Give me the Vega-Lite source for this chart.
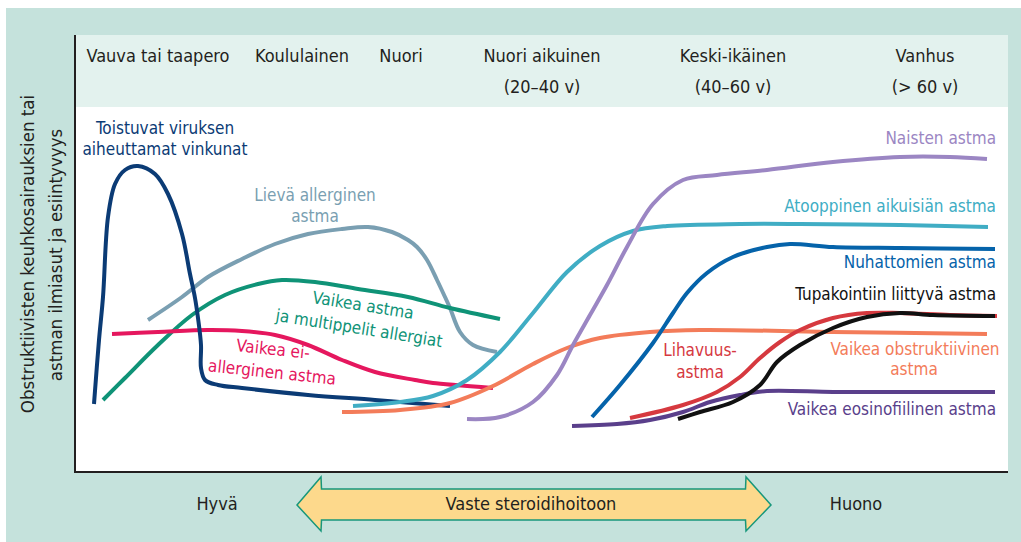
{
  "$schema": "https://vega.github.io/schema/vega-lite/v6.json",
  "width": 1021,
  "height": 542,
  "padding": 0,
  "autosize": {"type": "fit", "contains": "padding"},
  "background": "#ffffff",
  "config": {"view": {"stroke": null}},
  "datasets": {
    "pohja": [
      {"osa": "tausta", "x": -69, "x2": 946, "y": 464, "y2": -70},
      {"osa": "otsake", "x": 0, "x2": 933, "y": 437, "y2": 365},
      {"osa": "kuva", "x": 0, "x2": 933, "y": 365, "y2": 0}
    ],
    "akselit": [
      {"x": 0, "y": 437, "x2": 0, "y2": -1},
      {"x": -1, "y": 0, "x2": 933, "y2": 0}
    ],
    "nuoli": [
      {"x": 222, "y": -33, "y2": -33},
      {"x": 246, "y": -5, "y2": -59},
      {"x": 246.5, "y": -17, "y2": -48},
      {"x": 670.5, "y": -17, "y2": -48},
      {"x": 671, "y": -5, "y2": -59},
      {"x": 696, "y": -33, "y2": -33}
    ],
    "kayrat": [
      {"sarja": "Lievä allerginen astma", "j": 1, "x": 73, "y": 152},
      {"sarja": "Lievä allerginen astma", "j": 2, "x": 107, "y": 175},
      {"sarja": "Lievä allerginen astma", "j": 3, "x": 133, "y": 195},
      {"sarja": "Lievä allerginen astma", "j": 4, "x": 167, "y": 213},
      {"sarja": "Lievä allerginen astma", "j": 5, "x": 200, "y": 228},
      {"sarja": "Lievä allerginen astma", "j": 6, "x": 233, "y": 238},
      {"sarja": "Lievä allerginen astma", "j": 7, "x": 267, "y": 243},
      {"sarja": "Lievä allerginen astma", "j": 8, "x": 293, "y": 245},
      {"sarja": "Lievä allerginen astma", "j": 9, "x": 317, "y": 240},
      {"sarja": "Lievä allerginen astma", "j": 10, "x": 333, "y": 232},
      {"sarja": "Lievä allerginen astma", "j": 11, "x": 342, "y": 225},
      {"sarja": "Lievä allerginen astma", "j": 12, "x": 352, "y": 212},
      {"sarja": "Lievä allerginen astma", "j": 13, "x": 362, "y": 192},
      {"sarja": "Lievä allerginen astma", "j": 14, "x": 370, "y": 175},
      {"sarja": "Lievä allerginen astma", "j": 15, "x": 375, "y": 164},
      {"sarja": "Lievä allerginen astma", "j": 16, "x": 385, "y": 140},
      {"sarja": "Lievä allerginen astma", "j": 17, "x": 398, "y": 127},
      {"sarja": "Lievä allerginen astma", "j": 18, "x": 422, "y": 120},

      {"sarja": "Vaikea astma ja multippelit allergiat", "j": 1, "x": 28, "y": 72},
      {"sarja": "Vaikea astma ja multippelit allergiat", "j": 2, "x": 50, "y": 94},
      {"sarja": "Vaikea astma ja multippelit allergiat", "j": 3, "x": 83, "y": 127},
      {"sarja": "Vaikea astma ja multippelit allergiat", "j": 4, "x": 117, "y": 157},
      {"sarja": "Vaikea astma ja multippelit allergiat", "j": 5, "x": 150, "y": 177},
      {"sarja": "Vaikea astma ja multippelit allergiat", "j": 6, "x": 183, "y": 188},
      {"sarja": "Vaikea astma ja multippelit allergiat", "j": 7, "x": 207, "y": 192},
      {"sarja": "Vaikea astma ja multippelit allergiat", "j": 8, "x": 240, "y": 190},
      {"sarja": "Vaikea astma ja multippelit allergiat", "j": 9, "x": 283, "y": 183},
      {"sarja": "Vaikea astma ja multippelit allergiat", "j": 10, "x": 333, "y": 175},
      {"sarja": "Vaikea astma ja multippelit allergiat", "j": 11, "x": 375, "y": 164},
      {"sarja": "Vaikea astma ja multippelit allergiat", "j": 12, "x": 425, "y": 153},

      {"sarja": "Vaikea ei-allerginen astma", "j": 1, "x": 37, "y": 138},
      {"sarja": "Vaikea ei-allerginen astma", "j": 2, "x": 83, "y": 140},
      {"sarja": "Vaikea ei-allerginen astma", "j": 3, "x": 133, "y": 142},
      {"sarja": "Vaikea ei-allerginen astma", "j": 4, "x": 167, "y": 141},
      {"sarja": "Vaikea ei-allerginen astma", "j": 5, "x": 200, "y": 137},
      {"sarja": "Vaikea ei-allerginen astma", "j": 6, "x": 233, "y": 127},
      {"sarja": "Vaikea ei-allerginen astma", "j": 7, "x": 267, "y": 112},
      {"sarja": "Vaikea ei-allerginen astma", "j": 8, "x": 300, "y": 100},
      {"sarja": "Vaikea ei-allerginen astma", "j": 9, "x": 340, "y": 92},
      {"sarja": "Vaikea ei-allerginen astma", "j": 10, "x": 358, "y": 89},
      {"sarja": "Vaikea ei-allerginen astma", "j": 11, "x": 418, "y": 84},

      {"sarja": "Toistuvat viruksen aiheuttamat vinkunat", "j": 1, "x": 19, "y": 68},
      {"sarja": "Toistuvat viruksen aiheuttamat vinkunat", "j": 2, "x": 24, "y": 132},
      {"sarja": "Toistuvat viruksen aiheuttamat vinkunat", "j": 3, "x": 28, "y": 175},
      {"sarja": "Toistuvat viruksen aiheuttamat vinkunat", "j": 4, "x": 33, "y": 255},
      {"sarja": "Toistuvat viruksen aiheuttamat vinkunat", "j": 5, "x": 40, "y": 288},
      {"sarja": "Toistuvat viruksen aiheuttamat vinkunat", "j": 6, "x": 50, "y": 302},
      {"sarja": "Toistuvat viruksen aiheuttamat vinkunat", "j": 7, "x": 63, "y": 306},
      {"sarja": "Toistuvat viruksen aiheuttamat vinkunat", "j": 8, "x": 80, "y": 298},
      {"sarja": "Toistuvat viruksen aiheuttamat vinkunat", "j": 9, "x": 93, "y": 278},
      {"sarja": "Toistuvat viruksen aiheuttamat vinkunat", "j": 10, "x": 107, "y": 238},
      {"sarja": "Toistuvat viruksen aiheuttamat vinkunat", "j": 11, "x": 115, "y": 198},
      {"sarja": "Toistuvat viruksen aiheuttamat vinkunat", "j": 12, "x": 120, "y": 174},
      {"sarja": "Toistuvat viruksen aiheuttamat vinkunat", "j": 13, "x": 123, "y": 154},
      {"sarja": "Toistuvat viruksen aiheuttamat vinkunat", "j": 14, "x": 126, "y": 127},
      {"sarja": "Toistuvat viruksen aiheuttamat vinkunat", "j": 15, "x": 126, "y": 104},
      {"sarja": "Toistuvat viruksen aiheuttamat vinkunat", "j": 16, "x": 130, "y": 92},
      {"sarja": "Toistuvat viruksen aiheuttamat vinkunat", "j": 17, "x": 143, "y": 87},
      {"sarja": "Toistuvat viruksen aiheuttamat vinkunat", "j": 18, "x": 167, "y": 84},
      {"sarja": "Toistuvat viruksen aiheuttamat vinkunat", "j": 19, "x": 233, "y": 77},
      {"sarja": "Toistuvat viruksen aiheuttamat vinkunat", "j": 20, "x": 300, "y": 72},
      {"sarja": "Toistuvat viruksen aiheuttamat vinkunat", "j": 21, "x": 375, "y": 66},

      {"sarja": "Atooppinen aikuisiän astma", "j": 1, "x": 278, "y": 66},
      {"sarja": "Atooppinen aikuisiän astma", "j": 2, "x": 325, "y": 70},
      {"sarja": "Atooppinen aikuisiän astma", "j": 3, "x": 358, "y": 76},
      {"sarja": "Atooppinen aikuisiän astma", "j": 4, "x": 392, "y": 92},
      {"sarja": "Atooppinen aikuisiän astma", "j": 5, "x": 425, "y": 120},
      {"sarja": "Atooppinen aikuisiän astma", "j": 6, "x": 458, "y": 159},
      {"sarja": "Atooppinen aikuisiän astma", "j": 7, "x": 492, "y": 200},
      {"sarja": "Atooppinen aikuisiän astma", "j": 8, "x": 525, "y": 226},
      {"sarja": "Atooppinen aikuisiän astma", "j": 9, "x": 558, "y": 241},
      {"sarja": "Atooppinen aikuisiän astma", "j": 10, "x": 592, "y": 246},
      {"sarja": "Atooppinen aikuisiän astma", "j": 11, "x": 665, "y": 248},
      {"sarja": "Atooppinen aikuisiän astma", "j": 12, "x": 725, "y": 248},
      {"sarja": "Atooppinen aikuisiän astma", "j": 13, "x": 825, "y": 247},
      {"sarja": "Atooppinen aikuisiän astma", "j": 14, "x": 913, "y": 245},

      {"sarja": "Vaikea obstruktiivinen astma", "j": 1, "x": 267, "y": 60},
      {"sarja": "Vaikea obstruktiivinen astma", "j": 2, "x": 325, "y": 62},
      {"sarja": "Vaikea obstruktiivinen astma", "j": 3, "x": 375, "y": 69},
      {"sarja": "Vaikea obstruktiivinen astma", "j": 4, "x": 418, "y": 86},
      {"sarja": "Vaikea obstruktiivinen astma", "j": 5, "x": 458, "y": 108},
      {"sarja": "Vaikea obstruktiivinen astma", "j": 6, "x": 492, "y": 124},
      {"sarja": "Vaikea obstruktiivinen astma", "j": 7, "x": 525, "y": 134},
      {"sarja": "Vaikea obstruktiivinen astma", "j": 8, "x": 575, "y": 140},
      {"sarja": "Vaikea obstruktiivinen astma", "j": 9, "x": 625, "y": 142},
      {"sarja": "Vaikea obstruktiivinen astma", "j": 10, "x": 758, "y": 140},
      {"sarja": "Vaikea obstruktiivinen astma", "j": 11, "x": 912, "y": 138},

      {"sarja": "Naisten astma", "j": 1, "x": 392, "y": 53},
      {"sarja": "Naisten astma", "j": 2, "x": 425, "y": 55},
      {"sarja": "Naisten astma", "j": 3, "x": 458, "y": 70},
      {"sarja": "Naisten astma", "j": 4, "x": 482, "y": 97},
      {"sarja": "Naisten astma", "j": 5, "x": 498, "y": 127},
      {"sarja": "Naisten astma", "j": 6, "x": 515, "y": 157},
      {"sarja": "Naisten astma", "j": 7, "x": 532, "y": 187},
      {"sarja": "Naisten astma", "j": 8, "x": 552, "y": 225},
      {"sarja": "Naisten astma", "j": 9, "x": 578, "y": 268},
      {"sarja": "Naisten astma", "j": 10, "x": 608, "y": 292},
      {"sarja": "Naisten astma", "j": 11, "x": 642, "y": 297},
      {"sarja": "Naisten astma", "j": 12, "x": 692, "y": 302},
      {"sarja": "Naisten astma", "j": 13, "x": 758, "y": 310},
      {"sarja": "Naisten astma", "j": 14, "x": 825, "y": 315},
      {"sarja": "Naisten astma", "j": 15, "x": 875, "y": 315},
      {"sarja": "Naisten astma", "j": 16, "x": 912, "y": 313},

      {"sarja": "Nuhattomien astma", "j": 1, "x": 517, "y": 55},
      {"sarja": "Nuhattomien astma", "j": 2, "x": 545, "y": 87},
      {"sarja": "Nuhattomien astma", "j": 3, "x": 578, "y": 129},
      {"sarja": "Nuhattomien astma", "j": 4, "x": 598, "y": 159},
      {"sarja": "Nuhattomien astma", "j": 5, "x": 612, "y": 179},
      {"sarja": "Nuhattomien astma", "j": 6, "x": 632, "y": 199},
      {"sarja": "Nuhattomien astma", "j": 7, "x": 658, "y": 215},
      {"sarja": "Nuhattomien astma", "j": 8, "x": 692, "y": 225},
      {"sarja": "Nuhattomien astma", "j": 9, "x": 715, "y": 228},
      {"sarja": "Nuhattomien astma", "j": 10, "x": 758, "y": 225},
      {"sarja": "Nuhattomien astma", "j": 11, "x": 825, "y": 224},
      {"sarja": "Nuhattomien astma", "j": 12, "x": 920, "y": 223},

      {"sarja": "Vaikea eosinofiilinen astma", "j": 1, "x": 497, "y": 46},
      {"sarja": "Vaikea eosinofiilinen astma", "j": 2, "x": 542, "y": 48},
      {"sarja": "Vaikea eosinofiilinen astma", "j": 3, "x": 575, "y": 52},
      {"sarja": "Vaikea eosinofiilinen astma", "j": 4, "x": 608, "y": 60},
      {"sarja": "Vaikea eosinofiilinen astma", "j": 5, "x": 635, "y": 70},
      {"sarja": "Vaikea eosinofiilinen astma", "j": 6, "x": 665, "y": 77},
      {"sarja": "Vaikea eosinofiilinen astma", "j": 7, "x": 692, "y": 81},
      {"sarja": "Vaikea eosinofiilinen astma", "j": 8, "x": 758, "y": 80},
      {"sarja": "Vaikea eosinofiilinen astma", "j": 9, "x": 825, "y": 80},
      {"sarja": "Vaikea eosinofiilinen astma", "j": 10, "x": 920, "y": 80},

      {"sarja": "Lihavuusastma", "j": 1, "x": 555, "y": 54},
      {"sarja": "Lihavuusastma", "j": 2, "x": 608, "y": 67},
      {"sarja": "Lihavuusastma", "j": 3, "x": 642, "y": 80},
      {"sarja": "Lihavuusastma", "j": 4, "x": 665, "y": 95},
      {"sarja": "Lihavuusastma", "j": 5, "x": 685, "y": 114},
      {"sarja": "Lihavuusastma", "j": 6, "x": 705, "y": 130},
      {"sarja": "Lihavuusastma", "j": 7, "x": 725, "y": 142},
      {"sarja": "Lihavuusastma", "j": 8, "x": 758, "y": 154},
      {"sarja": "Lihavuusastma", "j": 9, "x": 792, "y": 159},
      {"sarja": "Lihavuusastma", "j": 10, "x": 825, "y": 159},
      {"sarja": "Lihavuusastma", "j": 11, "x": 875, "y": 157},
      {"sarja": "Lihavuusastma", "j": 12, "x": 922, "y": 156},

      {"sarja": "Tupakointiin liittyvä astma", "j": 1, "x": 603, "y": 53},
      {"sarja": "Tupakointiin liittyvä astma", "j": 2, "x": 625, "y": 60},
      {"sarja": "Tupakointiin liittyvä astma", "j": 3, "x": 658, "y": 70},
      {"sarja": "Tupakointiin liittyvä astma", "j": 4, "x": 685, "y": 87},
      {"sarja": "Tupakointiin liittyvä astma", "j": 5, "x": 702, "y": 110},
      {"sarja": "Tupakointiin liittyvä astma", "j": 6, "x": 725, "y": 127},
      {"sarja": "Tupakointiin liittyvä astma", "j": 7, "x": 758, "y": 144},
      {"sarja": "Tupakointiin liittyvä astma", "j": 8, "x": 792, "y": 155},
      {"sarja": "Tupakointiin liittyvä astma", "j": 9, "x": 825, "y": 159},
      {"sarja": "Tupakointiin liittyvä astma", "j": 10, "x": 858, "y": 157},
      {"sarja": "Tupakointiin liittyvä astma", "j": 11, "x": 920, "y": 156}
    ],
    "nimet": [
      {"sarja": "Toistuvat viruksen aiheuttamat vinkunat", "teksti": "Toistuvat viruksen", "x": 90, "y": 343},
      {"sarja": "Toistuvat viruksen aiheuttamat vinkunat", "teksti": "aiheuttamat vinkunat", "x": 90, "y": 322},
      {"sarja": "Lievä allerginen astma", "teksti": "Lievä allerginen", "x": 240, "y": 276},
      {"sarja": "Lievä allerginen astma", "teksti": "astma", "x": 240, "y": 255},
      {"sarja": "Vaikea obstruktiivinen astma", "teksti": "Vaikea obstruktiivinen", "x": 840, "y": 122},
      {"sarja": "Vaikea obstruktiivinen astma", "teksti": "astma", "x": 839, "y": 102},
      {"sarja": "Lihavuusastma", "teksti": "Lihavuus-", "x": 625, "y": 121},
      {"sarja": "Lihavuusastma", "teksti": "astma", "x": 625, "y": 99},
      {"sarja": "Vaikea astma ja multippelit allergiat", "teksti": "Vaikea astma", "x": 288, "y": 166},
      {"sarja": "Vaikea astma ja multippelit allergiat", "teksti": "ja multippelit allergiat", "x": 284, "y": 143},
      {"sarja": "Vaikea ei-allerginen astma", "teksti": "Vaikea ei-", "x": 198, "y": 122},
      {"sarja": "Vaikea ei-allerginen astma", "teksti": "allerginen astma", "x": 197, "y": 99},
      {"sarja": "Naisten astma", "teksti": "Naisten astma", "x": 921, "y": 333},
      {"sarja": "Atooppinen aikuisiän astma", "teksti": "Atooppinen aikuisiän astma", "x": 921, "y": 265},
      {"sarja": "Nuhattomien astma", "teksti": "Nuhattomien astma", "x": 921, "y": 209},
      {"sarja": "Tupakointiin liittyvä astma", "teksti": "Tupakointiin liittyvä astma", "x": 921, "y": 177},
      {"sarja": "Vaikea eosinofiilinen astma", "teksti": "Vaikea eosinofiilinen astma", "x": 921, "y": 62}
    ],
    "ikaryhmat": [
      {"teksti": "Vauva tai taapero", "x": 83, "y": 415},
      {"teksti": "Koululainen", "x": 227, "y": 415},
      {"teksti": "Nuori", "x": 326, "y": 415},
      {"teksti": "Nuori aikuinen", "x": 467, "y": 415},
      {"teksti": "(20–40 v)", "x": 467, "y": 384},
      {"teksti": "Keski-ikäinen", "x": 658, "y": 415},
      {"teksti": "(40–60 v)", "x": 658, "y": 384},
      {"teksti": "Vanhus", "x": 850, "y": 415},
      {"teksti": "(> 60 v)", "x": 850, "y": 384}
    ],
    "vaste": [
      {"teksti": "Hyvä", "x": 142, "y": -33},
      {"teksti": "Vaste steroidihoitoon", "x": 456, "y": -33},
      {"teksti": "Huono", "x": 781, "y": -33}
    ],
    "akselinimi": [
      {"teksti": "Obstruktiivisten keuhkosairauksien tai", "x": -47, "y": 218},
      {"teksti": "astman ilmiasut ja esiintyvyys", "x": -19, "y": 217}
    ]
  },
  "encoding": {
    "x": {"field": "x", "type": "quantitative", "scale": {"domain": [-75, 946], "nice": false, "zero": false}, "axis": null},
    "y": {"field": "y", "type": "quantitative", "scale": {"domain": [-70, 472], "nice": false, "zero": false}, "axis": null}
  },
  "layer": [
    {
      "data": {"name": "pohja"},
      "mark": {"type": "rect", "stroke": null},
      "encoding": {
        "x2": {"field": "x2"},
        "y2": {"field": "y2"},
        "fill": {"field": "osa", "type": "nominal", "scale": {"domain": ["tausta", "otsake", "kuva"], "range": ["#c5e2dc", "#e3f2ee", "#ffffff"]}, "legend": null}
      }
    },
    {
      "data": {"name": "akselit"},
      "mark": {"type": "rule", "color": "#231f20", "strokeWidth": 2},
      "encoding": {"x2": {"field": "x2"}, "y2": {"field": "y2"}}
    },
    {
      "data": {"name": "nuoli"},
      "mark": {"type": "area", "fill": "#fdd98c", "stroke": "#17977b", "strokeWidth": 1.5, "opacity": 1, "fillOpacity": 1, "interpolate": "linear", "orient": "vertical"},
      "encoding": {"y2": {"field": "y2"}}
    },
    {
      "data": {"name": "kayrat"},
      "mark": {"type": "line", "strokeWidth": 4, "interpolate": "catmull-rom", "strokeCap": "butt"},
      "encoding": {
        "color": {"field": "sarja", "type": "nominal", "legend": null,
          "scale": {
            "domain": ["Toistuvat viruksen aiheuttamat vinkunat", "Lievä allerginen astma", "Vaikea astma ja multippelit allergiat", "Vaikea ei-allerginen astma", "Atooppinen aikuisiän astma", "Vaikea obstruktiivinen astma", "Naisten astma", "Nuhattomien astma", "Lihavuusastma", "Tupakointiin liittyvä astma", "Vaikea eosinofiilinen astma"],
            "range": ["#0b3b75", "#7a9fb2", "#0f9377", "#e5175e", "#40adc4", "#f37c5a", "#9b86c3", "#0563aa", "#d6393f", "#111111", "#5a3f8b"]
          }},
        "order": {"field": "j", "type": "quantitative"}
      }
    },
    {
      "data": {"name": "nimet"},
      "transform": [{"filter": {"field": "sarja", "oneOf": ["Toistuvat viruksen aiheuttamat vinkunat", "Lievä allerginen astma", "Vaikea obstruktiivinen astma", "Lihavuusastma"]}}],
      "mark": {"type": "text", "font": "DejaVu Sans Condensed, Liberation Sans Narrow, Liberation Sans", "fontSize": 17, "align": "center", "baseline": "middle"},
      "encoding": {"text": {"field": "teksti"}, "color": {"field": "sarja", "type": "nominal", "legend": null}}
    },
    {
      "data": {"name": "nimet"},
      "transform": [{"filter": {"field": "sarja", "equal": "Vaikea astma ja multippelit allergiat"}}],
      "mark": {"type": "text", "font": "DejaVu Sans Condensed, Liberation Sans Narrow, Liberation Sans", "fontSize": 17, "align": "center", "baseline": "middle", "angle": 9},
      "encoding": {"text": {"field": "teksti"}, "color": {"field": "sarja", "type": "nominal", "legend": null}}
    },
    {
      "data": {"name": "nimet"},
      "transform": [{"filter": {"field": "sarja", "equal": "Vaikea ei-allerginen astma"}}],
      "mark": {"type": "text", "font": "DejaVu Sans Condensed, Liberation Sans Narrow, Liberation Sans", "fontSize": 17, "align": "center", "baseline": "middle", "angle": 6},
      "encoding": {"text": {"field": "teksti"}, "color": {"field": "sarja", "type": "nominal", "legend": null}}
    },
    {
      "data": {"name": "nimet"},
      "transform": [{"filter": {"field": "sarja", "oneOf": ["Naisten astma", "Atooppinen aikuisiän astma", "Nuhattomien astma", "Tupakointiin liittyvä astma", "Vaikea eosinofiilinen astma"]}}],
      "mark": {"type": "text", "font": "DejaVu Sans Condensed, Liberation Sans Narrow, Liberation Sans", "fontSize": 17, "align": "right", "baseline": "middle"},
      "encoding": {"text": {"field": "teksti"}, "color": {"field": "sarja", "type": "nominal", "legend": null}}
    },
    {
      "data": {"name": "ikaryhmat"},
      "mark": {"type": "text", "font": "DejaVu Sans Condensed, Liberation Sans Narrow, Liberation Sans", "fontSize": 18, "align": "center", "baseline": "middle", "color": "#231f20"},
      "encoding": {"text": {"field": "teksti"}}
    },
    {
      "data": {"name": "vaste"},
      "mark": {"type": "text", "font": "DejaVu Sans Condensed, Liberation Sans Narrow, Liberation Sans", "fontSize": 18, "align": "center", "baseline": "middle", "color": "#231f20"},
      "encoding": {"text": {"field": "teksti"}}
    },
    {
      "data": {"name": "akselinimi"},
      "mark": {"type": "text", "font": "DejaVu Sans Condensed, Liberation Sans Narrow, Liberation Sans", "fontSize": 18.5, "align": "center", "baseline": "middle", "angle": 270, "color": "#231f20"},
      "encoding": {"text": {"field": "teksti"}}
    }
  ]
}
